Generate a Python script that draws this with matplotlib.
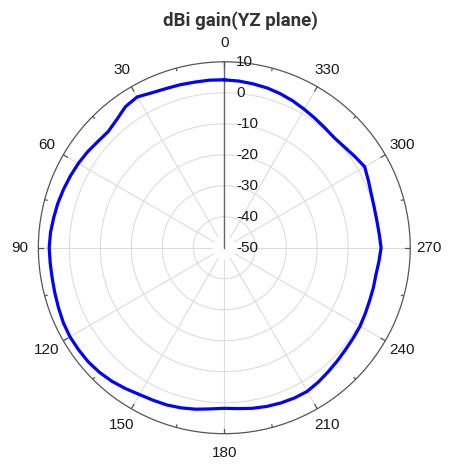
import numpy as np
import matplotlib
matplotlib.use("Agg")
import matplotlib.pyplot as plt
from matplotlib.transforms import offset_copy

# ---- data ----
angles_deg = [0, 5, 10, 15, 20, 25, 30, 35, 40, 45, 50, 55, 60, 65, 70, 75, 80, 85,
              90, 95, 100, 105, 110, 115, 120, 125, 130, 135, 140, 145, 150, 155, 160, 165,
              170, 175, 180, 185, 190, 195, 200, 205, 210, 215, 220, 225, 230, 235, 240, 245,
              250, 255, 260, 265, 270, 275, 280, 285, 290, 295, 300, 305, 310, 315, 320, 325,
              330, 335, 340, 345, 350, 355]
gain_dbi = [4.2, 4.3, 4.3, 4.5, 4.7, 5.2, 6.2, 5.6, 4.0, 3.0, 3.3, 3.9, 4.4, 4.8, 5.2, 5.6, 5.9, 6.3,
            6.5, 6.4, 6.4, 6.6, 6.9, 7.3, 7.5, 7.4, 7.3, 6.9, 6.3, 5.5, 4.7, 4.3, 4.0, 3.5,
            2.9, 2.2, 1.8, 2.1, 2.6, 3.0, 3.3, 3.5, 3.5, 2.9, 2.2, 1.6, 1.1, 0.8, 0.6, 0.2,
            -0.1, -0.2, -0.3, 0.1, 0.6, 0.2, 0.0, 0.1, 0.5, 1.3, 2.3, 1.4, 0.6, 0.2, 0.5, 1.0,
            1.6, 2.3, 2.9, 3.4, 3.7, 4.0]
theta_ticks = [0, 30, 60, 90, 120, 150, 180, 210, 240, 270, 300, 330]
r_ticks = [10, 0, -10, -20, -30, -40, -50]
title = "dBi gain(YZ plane)"

r_min, r_max = -50, 10

fig = plt.figure(figsize=(4.59, 4.66), dpi=100)
ax = fig.add_axes([0.0834, 0.0693, 0.8105, 0.798], projection="polar")
ax.set_theta_zero_location("N")
ax.set_theta_direction(1)
ax.set_rlim(r_min, r_max)
ax.grid(False)
ax.set_xticks([])
ax.set_yticks([])
ax.spines["polar"].set_color("#555555")
ax.spines["polar"].set_linewidth(0.9)

grid_c = "#dcdcdc"
tfine = np.linspace(0, 2 * np.pi, 721)
for r in r_ticks:
    if r_min < r < r_max:
        ax.plot(tfine, np.full_like(tfine, r), color=grid_c, lw=0.8, zorder=1)
for a in range(30, 360, 30):
    ax.plot([np.deg2rad(a)] * 2, [-46, r_max], color=grid_c, lw=0.8, zorder=1)

# radial axis line
ax.plot([0, 0], [r_min, r_max], color="#666666", lw=1.0, zorder=2)

# ticks on outer circle
for a in range(0, 360, 15):
    L = 1.6 if a % 30 == 0 else 0.8
    ax.plot([np.deg2rad(a)] * 2, [r_max - L, r_max], color="#555555", lw=0.9, zorder=2)

# data curve
th = np.deg2rad(np.array(angles_deg + [angles_deg[0]]))
rv = np.array(gain_dbi + [gain_dbi[0]])
ax.plot(th, rv, color="#0000ff", lw=2.3, zorder=5, solid_joinstyle="round")

# labels
tick_font = dict(family=["Liberation Sans", "DejaVu Sans"], size=11, color="#1a1a1a")
r_lab = r_max + 19.0 / 3.1
for a in theta_ticks:
    ax.text(np.deg2rad(a), r_lab, str(a), ha="center", va="center",
            clip_on=False, **tick_font)

tr = offset_copy(ax.transData, fig=fig, x=12, y=0, units="dots")
for r in r_ticks:
    ax.text(0, r, str(r), transform=tr, ha="left", va="center", zorder=6, **tick_font)

fig.text(240 / 459, 1 - 21 / 466, title, ha="center", va="center",
         family=["Roboto", "DejaVu Sans"], fontweight="bold", size=13.5, color="#333333")

fig.savefig("out.png", dpi=100)
